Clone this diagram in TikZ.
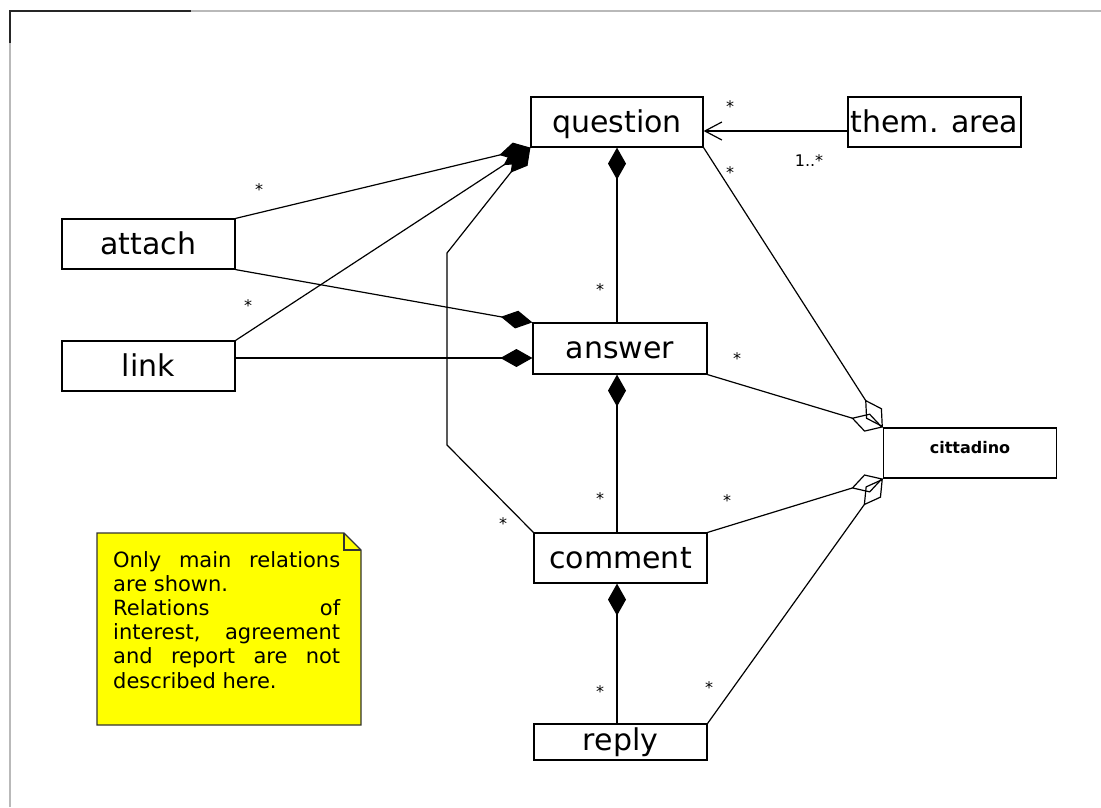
\documentclass[tikz,border=0pt]{standalone}
\usepackage{fontspec}
\setmainfont{DejaVu Sans}
\usetikzlibrary{arrows.meta,calc}
\definecolor{noteyellow}{RGB}{255,255,0}
\tikzset{
  cls/.style={draw=black, line width=1.2pt, minimum width=173pt, minimum height=50pt,
    inner sep=0pt, font=\fontsize{30}{34}\selectfont, text height=24pt, text depth=4pt},
  conn/.style={draw=black, line width=1.2pt},
  agg/.style={arrows={Diamond[length=32pt,width=18pt]-}},
  shared/.style={arrows={-Diamond[open,length=33pt,width=19pt]}},
  nav/.style={arrows={-Straight Barb[length=17pt,width=18pt]}},
  mult/.style={inner sep=0pt, font=\fontsize{16}{16}\selectfont},
}
\begin{document}
\begin{tikzpicture}[x=1pt,y=-1pt]
\useasboundingbox (0,0) rectangle (1101,807);
% frame
\draw[gray!55, line width=1.6pt] (10,807) -- (10,11) -- (1101,11);
\draw[black!85, line width=1.4pt] (10,43) -- (10,11) -- (191,11);

% classes
\node[cls, minimum width=172pt] (question) at (617,122) {question\hspace{19pt}};
\node[cls] (themarea) at (934.5,122) {them. area};
\node[cls] (attach) at (148.5,244) {attach\hspace{9pt}};
\node[cls] (link) at (148.5,366) {link\hspace{11pt}};
\node[cls, minimum width=174pt, minimum height=51pt] (answer) at (620,348.5) {answer};
\node[cls, font=\fontsize{16}{18}\selectfont\bfseries, text height=12pt, text depth=12pt] (cittadino) at (970,453) {cittadino};
\node[cls, minimum height=36pt, text height=22pt, text depth=6pt] (reply) at (620.5,742) {reply\hspace{12pt}};
\node[cls] (comment) at (620.5,558) {comment};

% note
\draw[fill=noteyellow, draw=black!80, line width=1.3pt] (97,533) -- (344,533) -- (361,550) -- (361,725) -- (97,725) -- cycle;
\draw[draw=black!80, line width=1.1pt] (344,533) -- (344,550) -- (361,550);
\node[anchor=base west, inner sep=0pt, font=\fontsize{21}{24.2}\selectfont] (notetext) at (113,567)
 {\parbox[t]{227pt}{\makebox[227pt][s]{Only main relations}\\
 are shown.\\
 \makebox[227pt][s]{Relations of}\\
 \makebox[227pt][s]{interest, agreement}\\
 \makebox[227pt][s]{and report are not}\\
 described here.}};

% composition connectors
\coordinate (b1) at (447,253);
\coordinate (b2) at (447,445);
\coordinate (lk) at ([yshift=8pt]link.east);
\coordinate (ta) at ([yshift=-9pt]themarea.west);
\draw[conn,agg] (question.south west) -- (attach.north east);
\draw[conn,agg] (question.south west) -- (link.north east);
\draw[conn,agg] (question.south west) -- (b1) -- (b2) -- (comment.north west);
\draw[conn,agg] (answer.north west) -- (attach.south east);
\draw[conn,agg] (lk -| answer.west) -- (lk);
\draw[conn,agg] (question.south) -- (question.south |- answer.north);
\draw[conn,agg] (question.south |- answer.south) -- (question.south |- comment.north);
\draw[conn,agg] (question.south |- comment.south) -- (question.south |- reply.north);
% navigable association
\draw[conn,nav] (ta) -- (ta -| question.east);
% associations to cittadino
\draw[conn,shared] (question.south east) -- (cittadino.north west);
\draw[conn,shared] (answer.south east) -- (cittadino.north west);
\draw[conn,shared] (comment.north east) -- (cittadino.south west);
\draw[conn,shared] (reply.north east) -- (cittadino.south west);

% multiplicities
\node[mult] (m1) at (259,190) {*};
\node[mult] (m2) at (248,306) {*};
\node[mult] (m3) at (730,107) {*};
\node[mult] (m4) at (730,173) {*};
\node[mult] (m5) at (600,290) {*};
\node[mult] (m6) at (737,359) {*};
\node[mult] (m7) at (600,499) {*};
\node[mult] (m8) at (727,501) {*};
\node[mult] (m9) at (503,524) {*};
\node[mult] (m10) at (600,692) {*};
\node[mult] (m11) at (709,688) {*};
\node[mult, anchor=base] (m12) at (809,166) {1..*};
\end{tikzpicture}
\end{document}
